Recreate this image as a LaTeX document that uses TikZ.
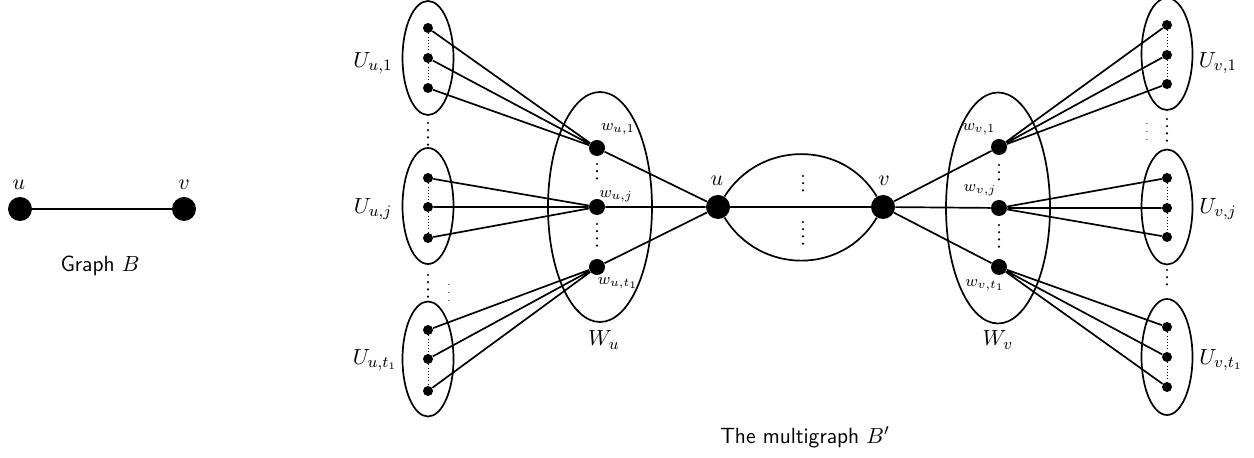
\documentclass[tikz,border=0pt]{standalone}
\usetikzlibrary{shapes.geometric}
\begin{document}
\begin{tikzpicture}[x=0.5pt,y={(0pt,-0.5pt)},
  bigv/.style={circle,fill,inner sep=0pt,minimum size=12pt},
  wv/.style={circle,fill,inner sep=0pt,minimum size=8pt},
  sv/.style={circle,fill,inner sep=0pt,minimum size=5pt},
  grp/.style={ellipse,draw,line width=0.85pt,inner sep=0pt,minimum width=25.5pt},
  edge/.style={line width=0.85pt},
  finedots/.style={line width=0.4pt,dash pattern=on 0.4pt off 1.2pt},
  gapdots/.style={line width=1.2pt,line cap=round,dash pattern=on 0pt off 3.6pt},
  lab/.style={inner sep=0pt,font=\fontsize{11}{13}\selectfont},
  slab/.style={inner sep=0pt,font=\fontsize{8}{9}\selectfont},
  tinyd/.style={inner sep=0pt,font=\fontsize{4.5}{5}\selectfont}]
\useasboundingbox (0,0) rectangle (1254,458);

% Graph B
\node[bigv] (bu) at (20,209) {};
\node[bigv] (bv) at (184,209) {};
\draw[edge] (bu) -- (bv);
\node[lab] (lbu) at (19,185) {$u$};
\node[lab] (lbv) at (184,185) {$v$};
\node[lab] (capB) at (100,266) {\textsf{Graph} $B$};

% Left U groups
\node[grp,minimum height=57pt] (Eu1) at (428,58) {};
\node[grp,minimum height=58pt] (Euj) at (428,206) {};
\node[grp,minimum height=57.5pt] (Eut) at (428,359) {};
\node[sv] (a1) at (428,28) {};
\node[sv] (a2) at (428,58) {};
\node[sv] (a3) at (428,88) {};
\node[sv] (b1) at (428,178) {};
\node[sv] (b2) at (428,207) {};
\node[sv] (b3) at (428,238) {};
\node[sv] (c1) at (428,330) {};
\node[sv] (c2) at (428,359) {};
\node[sv] (c3) at (428,391) {};
\draw[finedots] (a1)--(a2) (a2)--(a3) (b1)--(b2) (b2)--(b3) (c1)--(c2) (c2)--(c3);
\coordinate (gl1a) at (428,123); \coordinate (gl1b) at (428,146);
\coordinate (gl2a) at (428,275); \coordinate (gl2b) at (428,298);
\draw[gapdots] (gl1a) -- (gl1b);
\draw[gapdots] (gl2a) -- (gl2b);
\node[tinyd] (tl) at (449,287) {$\vdots$};
\node[lab] (lUu1) at (373,63) {$U_{u,1}$};
\node[lab] (lUuj) at (373,209) {$U_{u,j}$};
\node[lab] (lUut) at (375,360) {$U_{u,t_1}$};

% W_u
\node[ellipse,draw,line width=0.85pt,inner sep=0pt,minimum width=52pt,minimum height=115pt] (Wu) at (600,207) {};
\node[wv] (wu1) at (597,148) {};
\node[wv] (wuj) at (597,207) {};
\node[wv] (wut) at (597,267) {};
\coordinate (dw1a) at (597,164); \coordinate (dw1b) at (597,182);
\coordinate (dw2a) at (597,224); \coordinate (dw2b) at (597,248);
\draw[gapdots] (dw1a) -- (dw1b);
\draw[gapdots] (dw2a) -- (dw2b);
\node[slab] (lwu1) at (618,129) {$w_{u,1}$};
\node[slab] (lwuj) at (616,196) {$w_{u,j}$};
\node[slab] (lwut) at (618,283) {$w_{u,t_1}$};
\node[lab] (lWu) at (604,340) {$W_u$};

\draw[edge] (a1)--(wu1) (a2)--(wu1) (a3)--(wu1);
\draw[edge] (b1)--(wuj) (b2)--(wuj) (b3)--(wuj);
\draw[edge] (c1)--(wut) (c2)--(wut) (c3)--(wut);

% u and v
\node[bigv] (u) at (718,207) {};
\node[bigv] (v) at (883,207) {};
\node[lab] (lu) at (717,181) {$u$};
\node[lab] (lv) at (884,181) {$v$};
\draw[edge] (wu1)--(u) (wuj)--(u) (wut)--(u);
\draw[edge] (u)--(v);
\draw[edge] (u) .. controls (760,140) and (843,140) .. (v);
\draw[edge] (u) .. controls (760,275) and (843,275) .. (v);
\coordinate (m1a) at (803,176); \coordinate (m1b) at (803,196);
\coordinate (m2a) at (803,222); \coordinate (m2b) at (803,245);
\draw[gapdots] (m1a) -- (m1b);
\draw[gapdots] (m2a) -- (m2b);

% W_v
\node[ellipse,draw,line width=0.85pt,inner sep=0pt,minimum width=52pt,minimum height=115.5pt] (Wv) at (998,208) {};
\node[wv] (wv1) at (999,147) {};
\node[wv] (wvj) at (999,208) {};
\node[wv] (wvt) at (999,267) {};
\coordinate (dv1a) at (999,165); \coordinate (dv1b) at (999,184);
\coordinate (dv2a) at (999,225); \coordinate (dv2b) at (999,249);
\draw[gapdots] (dv1a) -- (dv1b);
\draw[gapdots] (dv2a) -- (dv2b);
\node[slab] (lwv1) at (979,129) {$w_{v,1}$};
\node[slab] (lwvj) at (980,190) {$w_{v,j}$};
\node[slab] (lwvt) at (985,285) {$w_{v,t_1}$};
\node[lab] (lWv) at (998,340) {$W_v$};
\draw[edge] (v)--(wv1) (v)--(wvj) (v)--(wvt);

% Right U groups
\node[grp,minimum height=56pt] (Ev1) at (1167,54) {};
\node[grp,minimum height=57.5pt] (Evj) at (1167,207) {};
\node[grp,minimum height=58pt] (Evt) at (1167,357) {};
\node[sv] (d1) at (1167,25) {};
\node[sv] (d2) at (1167,55) {};
\node[sv] (d3) at (1167,84) {};
\node[sv] (e1) at (1167,178) {};
\node[sv] (e2) at (1167,208) {};
\node[sv] (e3) at (1167,237) {};
\node[sv] (f1) at (1167,327) {};
\node[sv] (f2) at (1167,357) {};
\node[sv] (f3) at (1167,387) {};
\draw[finedots] (d1)--(d2) (d2)--(d3) (e1)--(e2) (e2)--(e3) (f1)--(f2) (f2)--(f3);
\coordinate (gr1a) at (1167,119); \coordinate (gr1b) at (1167,141);
\coordinate (gr2a) at (1167,270); \coordinate (gr2b) at (1167,291);
\draw[gapdots] (gr1a) -- (gr1b);
\draw[gapdots] (gr2a) -- (gr2b);
\node[tinyd] (tr) at (1147,126) {$\vdots$};
\node[lab] (lUv1) at (1218,63) {$U_{v,1}$};
\node[lab] (lUvj) at (1218,209) {$U_{v,j}$};
\node[lab] (lUvt) at (1221,360) {$U_{v,t_1}$};

\draw[edge] (wv1)--(d1) (wv1)--(d2) (wv1)--(d3);
\draw[edge] (wvj)--(e1) (wvj)--(e2) (wvj)--(e3);
\draw[edge] (wvt)--(f1) (wvt)--(f2) (wvt)--(f3);

\node[lab] (capBp) at (805,437) {\textsf{The multigraph} $B'$};
\end{tikzpicture}
\end{document}
